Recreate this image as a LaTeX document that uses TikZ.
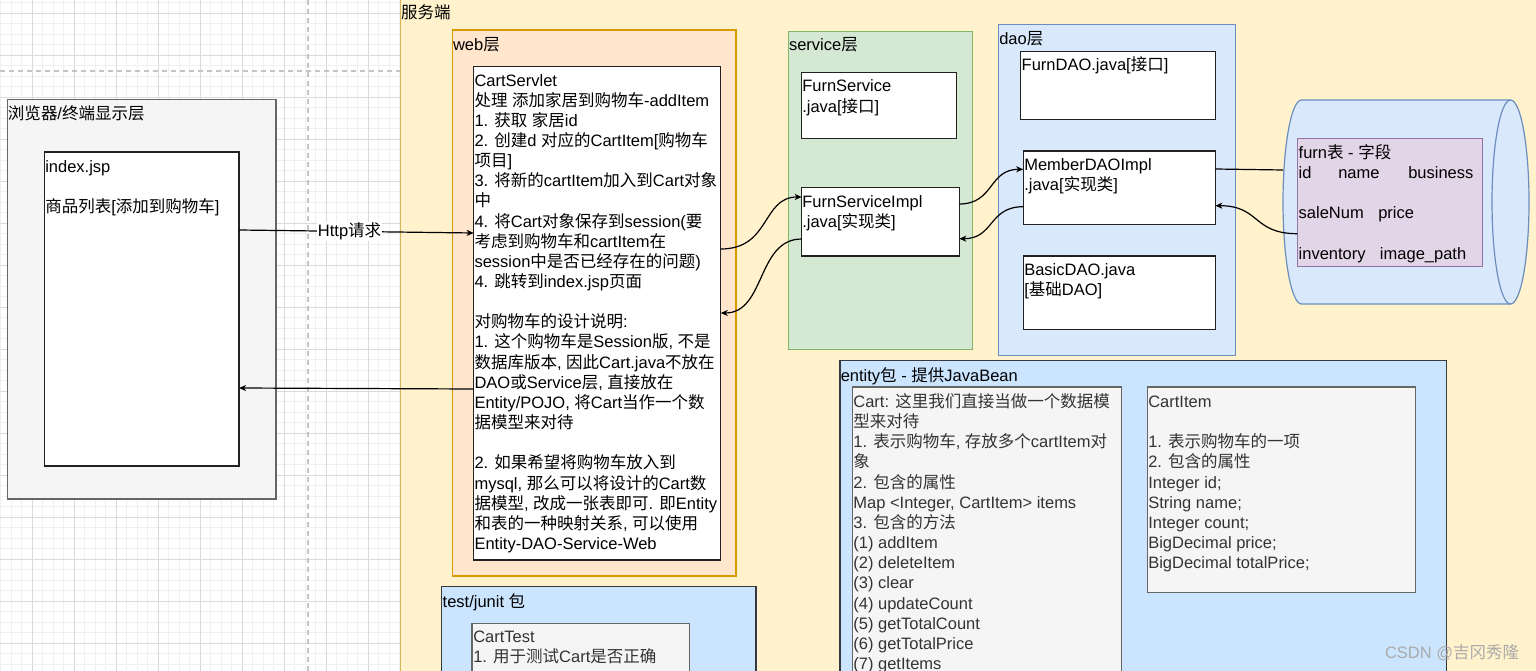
\documentclass[tikz,border=0pt]{standalone}
\usepackage{fontspec}
\setmainfont{Liberation Sans}
\newfontfamily\cjkfont{Noto Sans CJK SC}
\usetikzlibrary{arrows.meta}
\XeTeXinterchartokenstate=1
\newXeTeXintercharclass\CJKcls
\newcount\cjkc
\def\setcjkrange#1#2{\cjkc=#1\relax\loop\XeTeXcharclass\cjkc=\CJKcls\relax\ifnum\cjkc<#2\relax\advance\cjkc by 1\relax\repeat}
\setcjkrange{"3000}{"303F}
\setcjkrange{"4E00}{"9FFF}
\setcjkrange{"FF00}{"FFEF}
\XeTeXinterchartoks 0 \CJKcls = {\cjkfont}
\XeTeXinterchartoks 4095 \CJKcls = {\cjkfont}
\XeTeXinterchartoks \CJKcls 0 = {\rmfamily}
\XeTeXinterchartoks \CJKcls 4095 = {\rmfamily}
\definecolor{srvF}{HTML}{FFF2CC}\definecolor{srvD}{HTML}{D6B656}
\definecolor{webF}{HTML}{FFE6CC}\definecolor{webD}{HTML}{D79B00}
\definecolor{svcF}{HTML}{D5E8D4}\definecolor{svcD}{HTML}{82B366}
\definecolor{daoF}{HTML}{DAE8FC}\definecolor{daoD}{HTML}{6C8EBF}
\definecolor{pkgF}{HTML}{CCE5FF}\definecolor{pkgD}{HTML}{36393D}
\definecolor{grF}{HTML}{F5F5F5}\definecolor{grD}{HTML}{666666}
\definecolor{furnF}{HTML}{E1D5E7}\definecolor{furnD}{HTML}{9673A6}
\definecolor{gmin}{HTML}{F0F0F0}\definecolor{gmaj}{HTML}{DADADA}
\definecolor{dashc}{HTML}{C4C4C4}\definecolor{txtg}{HTML}{333333}
\definecolor{wmg}{HTML}{AAAAAA}\definecolor{bdr}{HTML}{222222}
\newcommand\fl{\rule{0pt}{15pt}}
\begin{document}
\begin{tikzpicture}[x=1pt,y=-1pt,
 box/.style={draw, rectangle, anchor=north west, inner sep=0pt, outer sep=0pt},
 wbox/.style={box, fill=white, draw=bdr, line width=1.4pt},
 gbox/.style={box, fill=grF, draw=grD, line width=1.2pt},
 txt/.style={anchor=north west, inner sep=0pt, outer sep=0pt, align=left, font=\fontsize{16.5}{20.15}\selectfont},
 conn/.style={line width=1.2pt, black},
 arr/.style={-{Stealth[length=7pt,width=6pt,inset=2pt]}},
 gminor/.style={gmin, line width=0.8pt},
 gmajor/.style={gmaj, line width=1pt},
 dashline/.style={dashc, line width=1.2pt, dash pattern=on 5pt off 4pt},
]
\useasboundingbox (0,0) rectangle (1536,671);
\clip (0,0) rectangle (1536,671);
\fill[white] (0,0) rectangle (1536,671);
% grid
\foreach \i in {0,...,38} { \draw[gminor] ({0.8+10.5*\i},0) -- ({0.8+10.5*\i},671); }
\foreach \i in {0,...,63} { \draw[gminor] (0,{2.8+10.5*\i}) -- (400,{2.8+10.5*\i}); }
\foreach \i in {0,...,8} { \draw[gmajor] ({32.3+42*\i},0) -- ({32.3+42*\i},671); }
\foreach \i in {0,...,15} { \draw[gmajor] (0,{13.3+42*\i}) -- (400,{13.3+42*\i}); }
\draw[dashline] (308,0) -- (308,671);
\draw[dashline] (0,71) -- (400,71);

% containers
\node[box, fill=srvF, draw=srvD, line width=1pt, minimum width=1160, minimum height=700] (srv) at (400,-10) {};
\node[box, fill=webF, draw=webD, line width=1.2pt, minimum width=283.3, minimum height=546] (web) at (452.7,30) {};
\node[box, fill=pkgF, draw=pkgD, line width=1.2pt, minimum width=314.3, minimum height=120] (test) at (441.7,586.7) {};
\node[box, fill=svcF, draw=svcD, line width=1.2pt, minimum width=184.4, minimum height=317.6] (svc) at (788.3,31.7) {};
\node[box, fill=daoF, draw=daoD, line width=1.2pt, minimum width=236.6, minimum height=331] (dao) at (998.7,24.7) {};
\node[box, fill=pkgF, draw=pkgD, line width=1.2pt, minimum width=606.9, minimum height=350] (ent) at (839.9,360.7) {};
\node[box, fill=grF, draw=grD, line width=1.2pt, minimum width=268.3, minimum height=399.7] (brw) at (7.7,99.3) {};

% inner boxes
\node[wbox, minimum width=194.7, minimum height=314] (idx) at (44.3,152) {};
\node[wbox, minimum width=247, minimum height=493.3] (cart) at (473.7,66.7) {};
\node[gbox, minimum width=217.3, minimum height=100] (ctest) at (472,623.3) {};
\node[wbox, minimum width=155, minimum height=65.6] (fs) at (801.7,72.7) {};
\node[wbox, minimum width=157.6, minimum height=68.3] (fsi) at (801.7,187.7) {};
\node[wbox, minimum width=194.6, minimum height=68] (fdao) at (1020.7,51.3) {};
\node[wbox, minimum width=192, minimum height=73.3] (mdi) at (1023.3,151) {};
\node[wbox, minimum width=192, minimum height=73.3] (bdao) at (1023.3,256) {};
\node[gbox, minimum width=269.2, minimum height=320] (cartE) at (852.5,387) {};
\node[gbox, minimum width=268.3, minimum height=205.3] (citem) at (1147.4,387) {};

% database cylinder
\draw[fill=daoF, draw=daoD, line width=1.2pt] (1301.5,100) -- (1510.5,100) -- (1510.5,304) -- (1301.5,304) arc[start angle=90, end angle=270, x radius=18.5, y radius=102] -- cycle;
\draw[fill=daoF, draw=daoD, line width=1.2pt] (1510.5,202) ellipse[x radius=18.5, y radius=102];
\node[box, draw=none, minimum width=246, minimum height=204] (db) at (1283,100) {};
\node[box, fill=furnF, draw=furnD, line width=1.2pt, minimum width=185, minimum height=128] (furn) at (1297.3,138.3) {};

% texts
\node[txt] (tsrv) at (401,3.5) {\fl 服务端};
\node[txt] (tweb) at (453,36) {\fl web层};
\node[txt] (tsvc) at (789,36) {\fl service层};
\node[txt] (tdao) at (999.3,29.3) {\fl dao层};
\node[txt] (tent) at (840.8,366) {\fl entity包 - 提供JavaBean};
\node[txt] (ttest) at (442.7,592) {\fl test/junit 包};
\node[txt] (tbrw) at (8,104.3) {\fl 浏览器/终端显示层};
\node[txt] (tidx) at (45.3,157) {\fl index.jsp\\ \mbox{}\\ 商品列表{[}添加到购物车]};
\node[txt] (tcart) at (474.5,71) {\fl CartServlet\\
处理 添加家居到购物车-addItem\\
1. 获取 家居id\\
2. 创建d 对应的CartItem{[}购物车\\
项目]\\
3. 将新的cartItem加入到Cart对象\\
中\\
4. 将Cart对象保存到session(要\\
考虑到购物车和cartItem在\\
session中是否已经存在的问题)\\
4. 跳转到index.jsp页面\\
\mbox{}\\
对购物车的设计说明:\\
1. 这个购物车是Session版, 不是\\
数据库版本, 因此Cart.java不放在\\
DAO或Service层, 直接放在\\
Entity/POJO, 将Cart当作一个数\\
据模型来对待\\
\mbox{}\\
2. 如果希望将购物车放入到\\
mysql, 那么可以将设计的Cart数\\
据模型, 改成一张表即可. 即Entity\\
和表的一种映射关系, 可以使用\\
Entity-DAO-Service-Web};
\node[txt, text=txtg] (tctest) at (473.3,627.7) {\fl CartTest\\ 1. 用于测试Cart是否正确};
\node[txt] (tfs) at (802.3,77) {\fl FurnService\\ .java{[}接口]};
\node[txt] (tfsi) at (802.3,192.3) {\fl FurnServiceImpl\\ .java{[}实现类]};
\node[txt] (tfdao) at (1021.7,56) {\fl FurnDAO.java{[}接口]};
\node[txt] (tmdi) at (1024.3,155.3) {\fl MemberDAOImpl\\ .java{[}实现类]};
\node[txt] (tbdao) at (1024.3,260.3) {\fl BasicDAO.java\\ {[}基础DAO]};
\node[txt] (tfurn) at (1298.7,143.3) {\fl furn表 - 字段\\
\makebox[39.6pt][l]{id}\makebox[70pt][l]{name}business\\ \mbox{}\\
\makebox[79.6pt][l]{saleNum}price\\ \mbox{}\\
\makebox[81.3pt][l]{inventory}image\_path};
\node[txt, text=txtg] (tcartE) at (853.4,392.5) {\fl Cart: 这里我们直接当做一个数据模\\
型来对待\\
1. 表示购物车, 存放多个cartItem对\\
象\\
2. 包含的属性\\
Map <Integer, CartItem> items\\
3. 包含的方法\\
(1) addItem\\
(2) deleteItem\\
(3) clear\\
(4) updateCount\\
(5) getTotalCount\\
(6) getTotalPrice\\
(7) getItems};
\node[txt, text=txtg] (tcitem) at (1148.3,392.5) {\fl CartItem\\ \mbox{}\\
1. 表示购物车的一项\\
2. 包含的属性\\
Integer id;\\
String name;\\
Integer count;\\
BigDecimal price;\\
BigDecimal totalPrice;};
\node[txt, text=wmg] (wm) at (1385,643.7) {\fl CSDN @吉冈秀隆};

% connectors
\draw[conn, arr] ([yshift=-78pt]idx.north east) -- node[pos=0.471, fill=white, inner sep=1pt, font=\fontsize{16.5}{20.15}\selectfont] (lhttp) {Http请求} ([yshift=-166.3pt]cart.north west);
\draw[conn, arr] ([yshift=-322.3pt]cart.north west) -- ([yshift=-236pt]idx.north east);
\draw[conn, arr] ([yshift=-182.3pt]cart.north east) .. controls +(50,0) and +(-40,0) .. ([yshift=-9.3pt]fsi.north west);
\draw[conn, arr] ([yshift=-51.3pt]fsi.north west) .. controls +(-45,0) and +(45,0) .. ([yshift=-246.3pt]cart.north east);
\draw[conn, arr] ([yshift=-16.3pt]fsi.north east) .. controls +(35,0) and +(-35,0) .. ([yshift=-18.3pt]mdi.north west);
\draw[conn, arr] ([yshift=-55.7pt]mdi.north west) .. controls +(-35,0) and +(35,0) .. ([yshift=-51pt]fsi.north east);
\draw[conn] ([yshift=-18pt]mdi.north east) -- ([yshift=-70pt]db.north west);
\draw[conn, arr] ([yshift=-95.4pt]furn.north west) .. controls +(-45,0) and +(45,0) .. ([yshift=-54.7pt]mdi.north east);
\end{tikzpicture}
\end{document}
